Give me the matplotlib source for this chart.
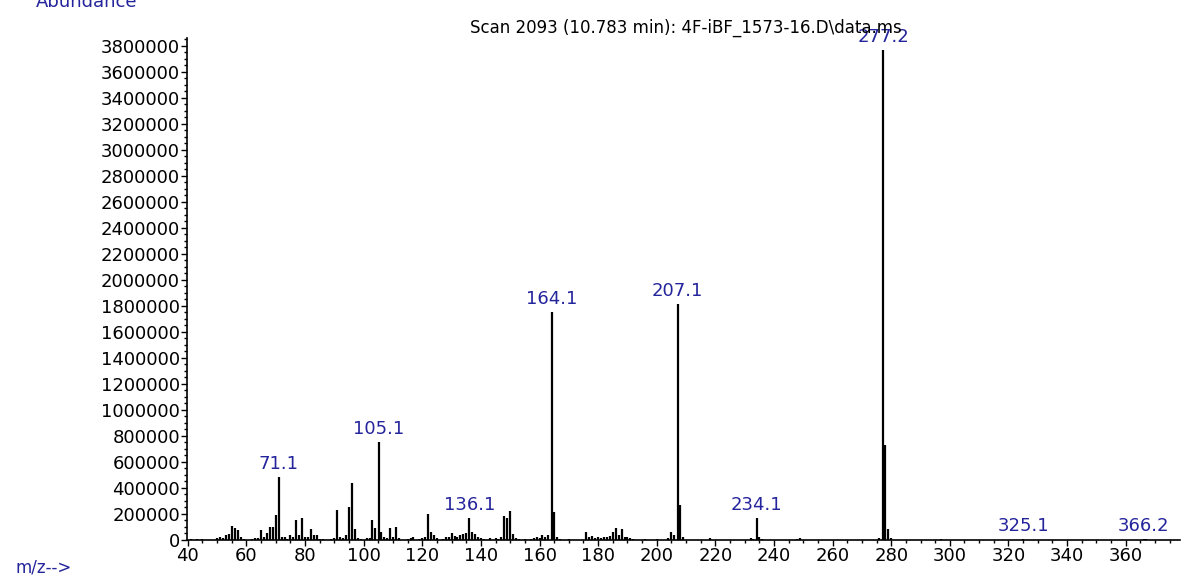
import matplotlib
matplotlib.use("Agg")
import matplotlib.pyplot as plt
import matplotlib.ticker as mticker

TITLE = "Scan 2093 (10.783 min): 4F-iBF_1573-16.D\\data.ms"

# m/z and abundance
MZ = [41, 43, 45, 50, 51, 52, 53, 54, 55, 56, 57, 58, 59, 62, 63, 64, 65, 66,
      67, 68, 69, 70, 71.1, 72, 73, 74, 75, 76, 77, 78, 79, 80, 81, 82, 83, 84,
      85, 86, 89, 90, 91, 92, 93, 94, 95, 96, 97, 98, 99, 101, 102, 103, 104,
      105.1, 106, 107, 108, 109, 110, 111, 112, 115, 116, 117, 119, 120, 121,
      122, 123, 124, 125, 127, 128, 129, 130, 131, 132, 133, 134, 135, 136.1,
      137, 138, 139, 140, 141, 143, 145, 146, 147, 148, 149, 150, 151, 152,
      153, 155, 157, 158, 159, 160, 161, 162, 163, 164.1, 165, 166, 167, 170,
      176, 177, 178, 179, 180, 181, 182, 183, 184, 185, 186, 187, 188, 189,
      190, 191, 192, 196, 200, 204, 205, 206, 207.1, 208, 209, 218, 232, 233,
      234.1, 235, 236, 248, 249, 276, 277.2, 278, 279, 280, 297, 325.1, 366.2,
      367]
ABUNDANCE = [8000, 10000, 6000, 15000, 25000, 12000, 35000, 45000, 105000,
             90000, 75000, 25000, 8000, 10000, 15000, 12000, 75000, 20000,
             50000, 100000, 100000, 195000, 480000, 20000, 25000, 10000, 35000,
             20000, 150000, 40000, 165000, 25000, 20000, 85000, 35000, 35000,
             10000, 8000, 10000, 15000, 230000, 25000, 15000, 40000, 256000,
             435000, 80000, 15000, 10000, 15000, 15000, 150000, 90000, 750000,
             60000, 20000, 15000, 90000, 20000, 100000, 15000, 10000, 15000,
             20000, 10000, 15000, 20000, 200000, 60000, 40000, 15000, 10000,
             20000, 25000, 55000, 30000, 20000, 35000, 45000, 50000, 170000,
             60000, 45000, 20000, 15000, 10000, 12000, 15000, 10000, 20000,
             180000, 165000, 225000, 45000, 15000, 10000, 8000, 10000, 15000,
             20000, 15000, 40000, 20000, 40000, 1750000, 215000, 25000, 8000,
             5000, 59000, 25000, 30000, 15000, 20000, 15000, 20000, 25000,
             30000, 60000, 90000, 40000, 85000, 25000, 20000, 15000, 10000,
             8000, 5000, 15000, 60000, 40000, 1815000, 265000, 20000, 15000,
             12000, 10000, 167000, 25000, 8000, 10000, 15000, 15000, 3770000,
             730000, 80000, 15000, 10000, 6000, 8000, 10000]

LABELLED = [71.1, 105.1, 136.1, 164.1, 207.1, 234.1, 277.2, 325.1, 366.2]

BLUE = "#24249c"

fig = plt.figure(figsize=(11.87, 5.78), dpi=100)
ax = fig.add_axes([0.1575, 0.066, 0.837, 0.868])

ax.vlines(MZ, 0, ABUNDANCE, color="black", linewidth=1.6)

heights = dict(zip(MZ, ABUNDANCE))
for mz in LABELLED:
    ax.annotate(f"{mz:.1f}", (mz, heights[mz]), xytext=(0, 3),
                textcoords="offset points", ha="center", va="bottom",
                color=BLUE, fontsize=13)

ax.set_xlim(39.7, 378.7)
ax.set_ylim(0, 3860000)

ax.xaxis.set_major_locator(mticker.MultipleLocator(20))
ax.xaxis.set_minor_locator(mticker.MultipleLocator(5))
ax.yaxis.set_major_locator(mticker.MultipleLocator(200000))
ax.yaxis.set_minor_locator(mticker.MultipleLocator(50000))
ax.yaxis.set_major_formatter(mticker.FuncFormatter(lambda v, _: f"{v:.0f}"))
ax.xaxis.set_major_formatter(mticker.FuncFormatter(lambda v, _: f"{v:.0f}"))

ax.tick_params(axis="both", which="major", direction="out", length=4,
               width=1, labelsize=13, colors="black", pad=1)
ax.tick_params(axis="both", which="minor", direction="out", length=2.5, width=1)

for side in ("top", "right"):
    ax.spines[side].set_visible(False)
for side in ("left", "bottom"):
    ax.spines[side].set_linewidth(1.2)

fig.text(0.578, 0.952, TITLE, ha="center", va="center", fontsize=12)
fig.text(0.03, 0.997, "Abundance", ha="left", va="center", fontsize=13, color=BLUE)
fig.text(0.013, 0.018, "m/z-->", ha="left", va="center", fontsize=12, color=BLUE)

fig.savefig("out.png", dpi=100, facecolor="white")
